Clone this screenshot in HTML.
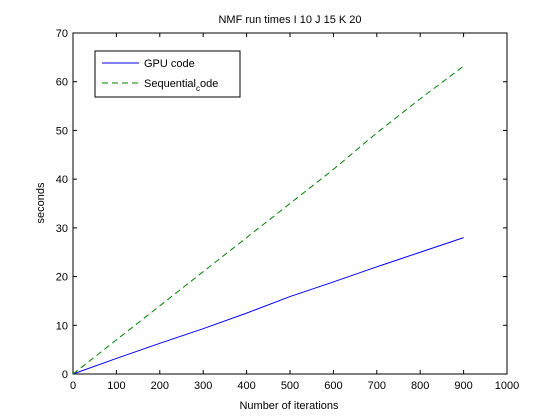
<!DOCTYPE html>
<html><head><meta charset="utf-8"><style>
body{margin:0;background:#fff;}
svg{display:block;font-family:"Liberation Sans",sans-serif;}
</style></head><body>
<svg id="chart" width="560" height="420">
<rect width="560" height="420" fill="#fff"/>
<text x="290" y="23" font-size="11" text-anchor="middle">NMF run times I 10 J 15 K 20</text>
<rect x="73" y="33" width="434" height="341" fill="#fff" stroke="#000" stroke-width="1"/>
<g id="ticks"></g>
<g id="series"></g>
<text x="289" y="409" font-size="11" text-anchor="middle">Number of iterations</text>
<text transform="translate(44,203) rotate(-90)" font-size="11" text-anchor="middle">seconds</text>
<g>
<rect x="95" y="51" width="145" height="46" fill="#fff" stroke="#000"/>
<line x1="102" y1="63" x2="139" y2="63" stroke="#00f"/>
<text x="144" y="67" font-size="11">GPU code</text>
<line x1="102" y1="83" x2="139" y2="83" stroke="#008000" stroke-dasharray="6,4"/>
<text x="144" y="87" font-size="11">Sequential<tspan font-size="8" dy="4">c</tspan><tspan dy="-4">ode</tspan></text>
</g>
</svg>
<script>
const iterations=[0,100,200,300,400,500,600,700,800,900];
const gpuTimes=[0,3.2,6.3,9.3,12.5,15.9,18.9,22,25,28];
const seqTimes=[0,7,14,21,28,35,42,49.5,56.5,63.2];
const xTicks=[0,100,200,300,400,500,600,700,800,900,1000];
const yTicks=[0,10,20,30,40,50,60,70];
const L=73,R=507,T=33,B=374;
const sx=v=>L+(v/1000)*(R-L);
const sy=v=>B-(v/70)*(B-T);
const NS="http://www.w3.org/2000/svg";
const tg=document.getElementById('ticks');
function mk(tag,attrs,parent){const e=document.createElementNS(NS,tag);for(const k in attrs)e.setAttribute(k,attrs[k]);parent.appendChild(e);return e;}
xTicks.forEach(v=>{
  const x=sx(v);
  const t1=mk('line',{x1:x,y1:B,x2:x,y2:B-4,stroke:'#000'},tg);
  
  
  mk('line',{x1:x,y1:T,x2:x,y2:T+4,stroke:'#000'},tg);
  const tx=mk('text',{x:x,y:B+15,'font-size':11,'text-anchor':'middle'},tg);
  tx.textContent=v;
  
  
});
yTicks.forEach(v=>{
  const y=sy(v);
  const t1=mk('line',{x1:L,y1:y,x2:L+4,y2:y,stroke:'#000'},tg);
  
  
  mk('line',{x1:R,y1:y,x2:R-4,y2:y,stroke:'#000'},tg);
  const tx=mk('text',{x:L-5,y:y+4,'font-size':11,'text-anchor':'end'},tg);
  tx.textContent=v;
  
  
});
const sg=document.getElementById('series');
const pts=a=>a.map((v,i)=>sx(iterations[i])+','+sy(v)).join(' ');
const g=mk('polyline',{points:pts(gpuTimes),fill:'none',stroke:'#00f'},sg);


const s=mk('polyline',{points:pts(seqTimes),fill:'none',stroke:'#008000','stroke-dasharray':'6,4'},sg);


</script>
</body></html>
